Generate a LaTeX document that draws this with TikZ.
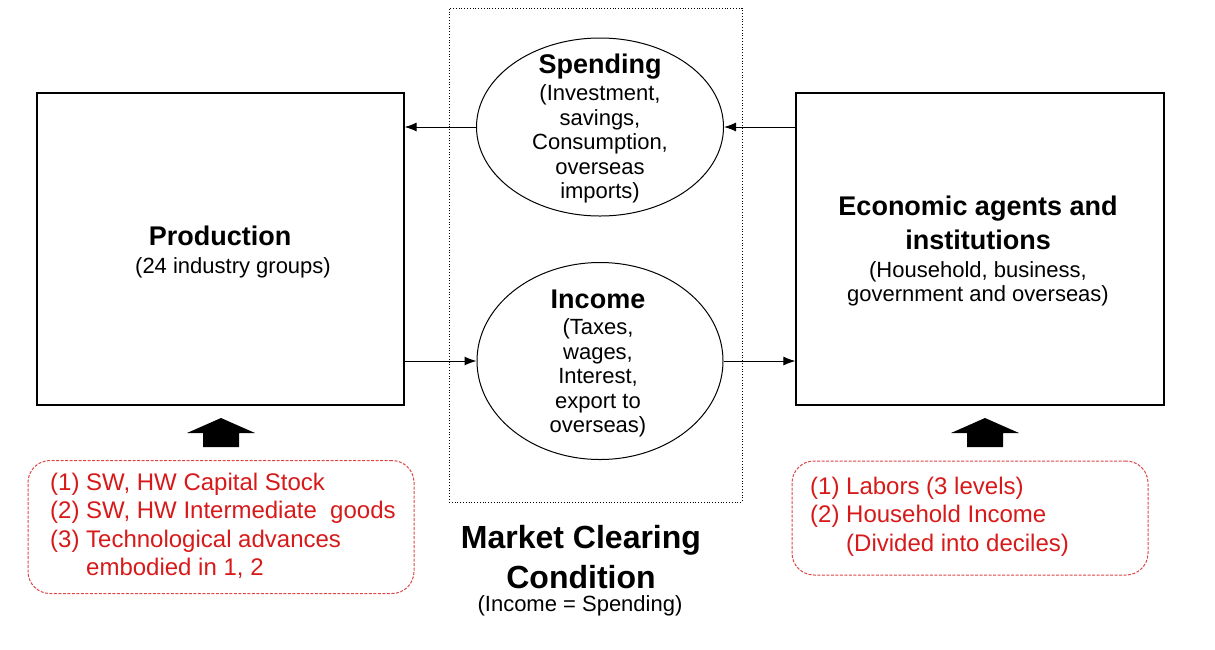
\documentclass[tikz,border=0pt]{standalone}
\usepackage{fontspec}
\setmainfont{Liberation Sans}
\usetikzlibrary{shapes.geometric,arrows.meta}
\definecolor{txtred}{RGB}{215,25,25}
\definecolor{boxred}{RGB}{220,70,70}
\begin{document}
\begin{tikzpicture}[x=1pt,y=-1pt,
  mainbox/.style={draw,line width=1.2pt,inner sep=0pt},
  oval/.style={draw,ellipse,line width=1pt,inner sep=0pt},
  ttl/.style={font=\bfseries\fontsize{27}{34}\selectfont,align=center,inner sep=0pt},
  sub/.style={font=\fontsize{22}{24.5}\selectfont,align=center,inner sep=0pt},
  redbox/.style={draw=boxred,line width=1pt,dash pattern=on 3pt off 1.5pt,rounded corners=22pt,inner sep=0pt},
  redtxt/.style={text=txtred,font=\fontsize{24}{28.3}\selectfont,align=left,inner sep=0pt},
  flow/.style={line width=1pt,-{Latex[length=12pt,width=9pt]}},
  blockarr/.style={fill=black}
]
\useasboundingbox (0,0) rectangle (1215,649);

% market clearing dotted frame
\node[draw,dotted,line width=0.8pt,minimum width=293pt,minimum height=494pt,inner sep=0pt] (mc) at (595.5,255) {};

% boxes
\node[mainbox,minimum width=367pt,minimum height=312pt] (prod) at (220.5,249) {};
\node[mainbox,minimum width=368pt,minimum height=312pt] (agents) at (980,249) {};

\node[ttl] (prodt) at (220,236) {Production};
\node[sub] (prods) at (233,268) {(24 industry groups)};

\node[ttl] (agt) at (978,223) {Economic agents and\\institutions};
\node[sub] (ags) at (978,284) {(Household, business,\\government and overseas)};

% ellipses
\node[oval,minimum width=247pt,minimum height=178pt] (sp) at (600,127) {};
\node[oval,minimum width=246pt,minimum height=197pt] (inc) at (600,361) {};

\node[ttl] (spt) at (600,67) {Spending};
\node[sub] (sps) at (600,144) {(Investment,\\savings,\\Consumption,\\overseas\\imports)};

\node[ttl] (inct) at (598,299) {Income};
\node[sub] (incs) at (598,378) {(Taxes,\\wages,\\Interest,\\export to\\overseas)};

% flows
\draw[flow] (sp.west) -- (prod.east |- sp.west);
\draw[flow] (agents.west |- sp.east) -- (sp.east);
\draw[flow] (prod.east |- inc.west) -- (inc.west);
\draw[flow] (inc.east) -- (agents.west |- inc.east);

% block arrows
\coordinate (la) at (221,447);
\coordinate (ra) at (985,447);
\fill[blockarr] (la) ++(-18,0) -- ++(0,-14) -- ++(-16,0) -- ++(34,-15) -- ++(34,15) -- ++(-16,0) -- ++(0,14) -- cycle;
\fill[blockarr] (ra) ++(-18,0) -- ++(0,-14) -- ++(-16,0) -- ++(34,-15) -- ++(34,15) -- ++(-16,0) -- ++(0,14) -- cycle;

% red boxes
\node[redbox,minimum width=386pt,minimum height=133pt] (lred) at (221,527) {};
\node[redbox,minimum width=356pt,minimum height=114pt] (rred) at (970,518) {};

\node[redtxt,anchor=north west] (lredt) at (50,473) {(1) SW, HW Capital Stock\\(2) SW, HW Intermediate\ \ goods\\(3) Technological advances\\\hphantom{(3) }embodied in 1, 2};
\node[redtxt,anchor=north west] (rredt) at (810,477) {(1) Labors (3 levels)\\(2) Household Income\\\hphantom{(2) }(Divided into deciles)};

% market clearing label
\node[font=\bfseries\fontsize{32}{40}\selectfont,align=center,inner sep=0pt] (mct) at (581,557) {Market Clearing\\Condition};
\node[font=\fontsize{22}{24}\selectfont,inner sep=0pt] (mcs) at (580,606) {(Income = Spending)};
\end{tikzpicture}
\end{document}
